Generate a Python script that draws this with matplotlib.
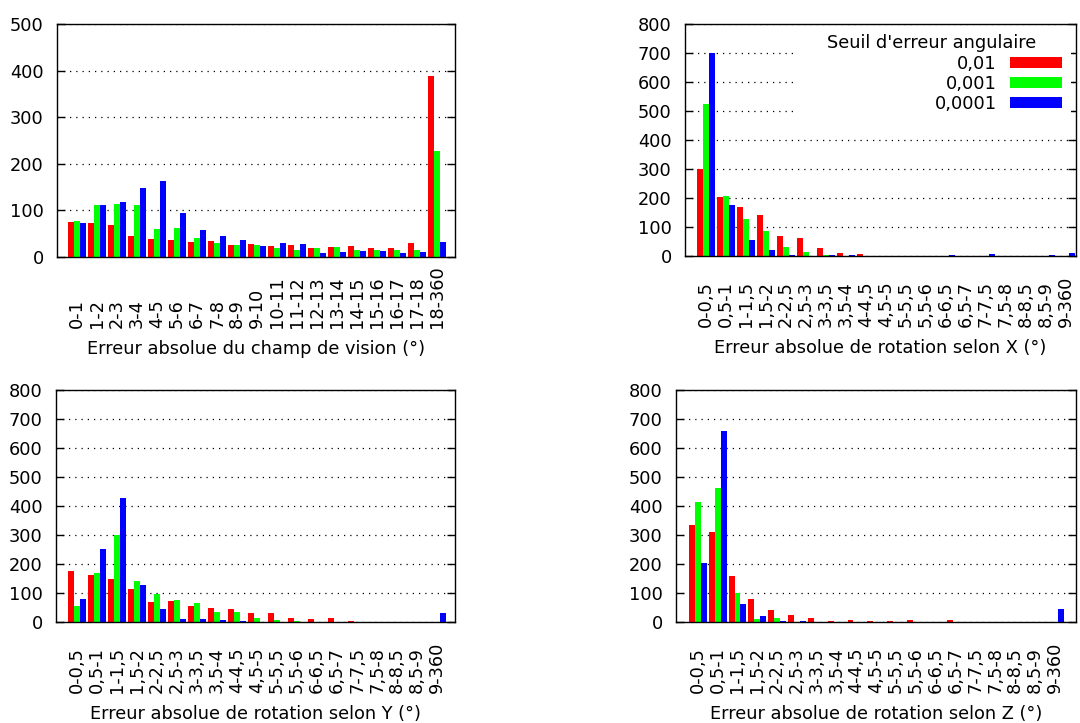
import numpy as np
import matplotlib
matplotlib.use("Agg")
import matplotlib.pyplot as plt
from matplotlib.patches import Patch, Rectangle

# catégories
fov_bins = ["0-1", "1-2", "2-3", "3-4", "4-5", "5-6", "6-7", "7-8", "8-9",
            "9-10", "10-11", "11-12", "12-13", "13-14", "14-15", "15-16",
            "16-17", "17-18", "18-360"]
rot_bins = ["0-0,5", "0,5-1", "1-1,5", "1,5-2", "2-2,5", "2,5-3", "3-3,5",
            "3,5-4", "4-4,5", "4,5-5", "5-5,5", "5,5-6", "6-6,5", "6,5-7",
            "7-7,5", "7,5-8", "8-8,5", "8,5-9", "9-360"]
thresholds = ["0,01", "0,001", "0,0001"]

# champ de vision
fov_01 = [75, 72, 68, 44, 38, 36, 32, 34, 25, 27, 23, 25, 19, 21, 23, 19, 19, 29, 388]
fov_001 = [77, 111, 113, 111, 60, 62, 40, 29, 25, 25, 19, 14, 19, 21, 16, 14, 14, 16, 227]
fov_0001 = [72, 111, 118, 148, 163, 94, 57, 44, 36, 23, 29, 27, 8, 10, 12, 12, 8, 10, 32]

# rotation X
rotx_01 = [300, 204, 169, 142, 69, 62, 28, 10, 7, 1, 1, 1, 1, 1, 1, 0, 0, 0, 0]
rotx_001 = [525, 207, 128, 86, 31, 14, 3, 0, 0, 0, 0, 0, 0, 0, 0, 0, 0, 0, 0]
rotx_0001 = [700, 176, 55, 21, 3, 0, 3, 3, 0, 0, 1, 0, 3, 1, 7, 1, 1, 3, 10]

# rotation Y
roty_01 = [175, 161, 147, 113, 68, 71, 54, 47, 44, 30, 30, 13, 9, 13, 2, 1, 1, 1, 0]
roty_001 = [54, 168, 299, 140, 95, 75, 64, 33, 33, 13, 6, 2, 0, 0, 0, 0, 0, 0, 0]
roty_0001 = [78, 251, 426, 126, 44, 9, 9, 6, 2, 0, 0, 0, 0, 0, 0, 0, 0, 0, 30]

# rotation Z
rotz_01 = [333, 309, 157, 78, 40, 23, 13, 2, 6, 2, 2, 6, 1, 6, 1, 0, 0, 0, 0]
rotz_001 = [413, 461, 99, 9, 13, 1, 0, 0, 0, 0, 0, 0, 0, 0, 0, 0, 0, 0, 0]
rotz_0001 = [202, 657, 61, 20, 2, 2, 0, 0, 0, 0, 0, 0, 0, 0, 0, 0, 0, 0, 44]

colors = ["#ff0000", "#00ff00", "#0000ff"]
FS = 12.8
W, H = 1080, 723

plt.rcParams["font.family"] = "DejaVu Sans"
plt.rcParams["font.size"] = FS

fig = plt.figure(figsize=(W / 100, H / 100), dpi=100)


def px_axes(left, top, right, bottom):
    return fig.add_axes([left / W, (H - bottom) / H, (right - left) / W,
                         (bottom - top) / H])


def histogram(ax, labels, series, ymax, xlim, xlabel):
    x = np.arange(len(labels))
    for k, (vals, col) in enumerate(zip(series, colors)):
        ax.bar(x + (k - 1) * 0.3, vals, width=0.3, color=col,
               linewidth=0)
    ax.set_xlim(*xlim)
    ax.set_ylim(0, ymax)
    ax.set_yticks(np.arange(0, ymax + 1, 100))
    ax.set_xticks(x)
    ax.set_xticklabels(labels, rotation=90, va="bottom", ha="center")
    ax.tick_params(axis="x", length=0, pad=51)
    ax.tick_params(axis="y", direction="in", length=6, width=1,
                   right=True, pad=9.5)
    ax.set_axisbelow(True)
    ax.grid(axis="y", color="black", linewidth=0.9, linestyle=(0, (1, 4)))
    for sp in ax.spines.values():
        sp.set_linewidth(1.0)
    ax.set_xlabel(xlabel, labelpad=9)


ax1 = px_axes(57, 24, 455, 257)
histogram(ax1, fov_bins, [fov_01, fov_001, fov_0001], 500, (-1.0, 18.9),
          "Erreur absolue du champ de vision (°)")

ax2 = px_axes(685, 24, 1076, 256)
histogram(ax2, rot_bins, [rotx_01, rotx_001, rotx_0001], 800, (-1.035, 18.515),
          "Erreur absolue de rotation selon X (°)")

ax3 = px_axes(56, 390, 455, 622)
histogram(ax3, rot_bins, [roty_01, roty_001, roty_0001], 800, (-1.05, 18.9),
          "Erreur absolue de rotation selon Y (°)")

ax4 = px_axes(676, 390, 1076, 622)
histogram(ax4, rot_bins, [rotz_01, rotz_001, rotz_0001], 800, (-1.1, 19.07),
          "Erreur absolue de rotation selon Z (°)")

# légende (cadre blanc sans bordure)
ax2.add_patch(Rectangle((0.276, 0.575), 0.711, 0.416, transform=ax2.transAxes,
                        facecolor="white", edgecolor="none", zorder=1))
ax2.text(0.632, 0.92, "Seuil d'erreur angulaire", transform=ax2.transAxes,
         ha="center", va="center", zorder=3)
handles = [Patch(facecolor=c, edgecolor="none") for c in colors]
ax2.legend(handles, thresholds, loc="upper right",
           bbox_to_anchor=((1062 - 685) / 391, (256 - 55) / 232),
           markerfirst=False, frameon=False, borderpad=0, borderaxespad=0,
           handlelength=2.95, handleheight=0.6, handletextpad=0.72,
           labelspacing=0.1, fontsize=FS)

fig.savefig("out.png", dpi=100)
